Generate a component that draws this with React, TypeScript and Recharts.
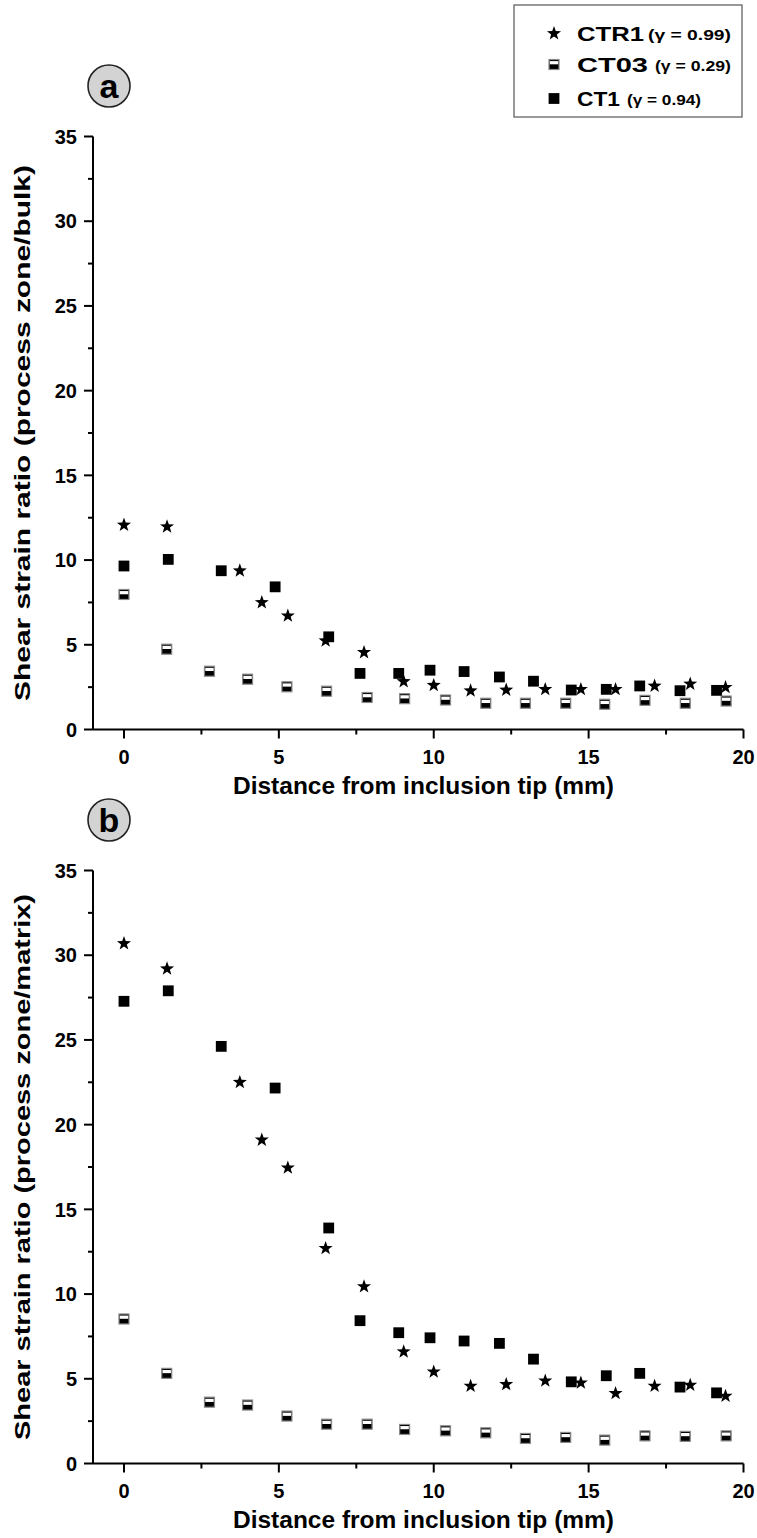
import React from 'react';
import { ScatterChart, Scatter, XAxis, YAxis } from 'recharts';

// ---- data ----
const ctr1X = [0, 1.39, 3.74, 4.45, 5.29, 6.51, 7.75, 9.03, 10.0, 11.19, 12.34, 13.6, 14.75, 15.87, 17.13, 18.28, 19.42];
const ctr1A = [12.07, 11.97, 9.37, 7.5, 6.71, 5.24, 4.55, 2.83, 2.61, 2.29, 2.33, 2.37, 2.37, 2.37, 2.57, 2.69, 2.49];
const ctr1B = [30.69, 29.2, 22.5, 19.1, 17.45, 12.7, 10.44, 6.6, 5.41, 4.57, 4.67, 4.88, 4.76, 4.14, 4.57, 4.63, 3.98];

const ct03X = [0, 1.38, 2.76, 3.99, 5.26, 6.54, 7.85, 9.06, 10.38, 11.68, 12.96, 14.26, 15.52, 16.82, 18.12, 19.44];
const ct03A = [7.97, 4.74, 3.44, 2.97, 2.52, 2.26, 1.89, 1.82, 1.74, 1.55, 1.55, 1.55, 1.49, 1.72, 1.55, 1.68];
const ct03B = [8.53, 5.32, 3.62, 3.45, 2.8, 2.32, 2.32, 2.01, 1.93, 1.81, 1.48, 1.54, 1.38, 1.63, 1.6, 1.63];

const ct1X = [0, 1.43, 3.14, 4.88, 6.61, 7.62, 8.87, 9.88, 10.98, 12.12, 13.22, 14.44, 15.57, 16.65, 17.95, 19.13];
const ct1A = [9.65, 10.04, 9.37, 8.42, 5.47, 3.31, 3.31, 3.5, 3.42, 3.1, 2.85, 2.33, 2.37, 2.57, 2.29, 2.31];
const ct1B = [27.28, 27.9, 24.62, 22.16, 13.9, 8.43, 7.72, 7.42, 7.23, 7.09, 6.16, 4.82, 5.18, 5.32, 4.51, 4.17];

const xTicks = [0, 2.5, 5, 7.5, 10, 12.5, 15, 17.5, 20];
const yTicks = [0, 2.5, 5, 7.5, 10, 12.5, 15, 17.5, 20, 22.5, 25, 27.5, 30, 32.5, 35];

const seriesNames = ['CTR1', 'CT03', 'CT1'];
const gammaLabels = ['(γ = 0.99)', '(γ = 0.29)', '(γ = 0.94)'];
const xTitle = 'Distance from inclusion tip (mm)';
const yTitleA = 'Shear strain ratio (process zone/bulk)';
const yTitleB = 'Shear strain ratio (process zone/matrix)';

// ---- layout ----
const W = 757;
const CH = 800;
const PLOT_LEFT = 93;
const PLOT_RIGHT = 743.5;
const PLOT_TOP = 136.5;
const PLOT_BOTTOM = 729.5;
const FONT = '"Liberation Sans", Arial, sans-serif';
const MAJOR = 9;
const MINOR = 5;

const isMajor = (v: number) => Math.abs(v % 5) < 1e-9;

// ---- markers ----
function starPath(cx: number, cy: number, ro: number, ri: number) {
  const pts: string[] = [];
  for (let i = 0; i < 10; i++) {
    const r = i % 2 === 0 ? ro : ri;
    const a = -Math.PI / 2 + (i * Math.PI) / 5;
    pts.push(`${(cx + r * Math.cos(a)).toFixed(2)},${(cy + r * Math.sin(a)).toFixed(2)}`);
  }
  return pts.join(' ');
}
const StarShape = (p: any) => <polygon points={starPath(p.cx, p.cy, 7.4, 3.0)} fill="#000" />;
const SquareShape = (p: any) => <rect x={p.cx - 5.4} y={p.cy - 5.4} width={10.8} height={10.8} fill="#000" />;
const HalfShape = (p: any) => (
  <g>
    <rect x={p.cx - 5} y={p.cy - 5} width={10} height={10} fill="#000" stroke="#8a8a8a" strokeWidth={1.2} />
    <rect x={p.cx - 4.2} y={p.cy - 3.4} width={8.4} height={3.2} fill="#fff" />
  </g>
);

// ---- ticks ----
const LeftTick = (p: any) => {
  const v = p.payload.value;
  const m = isMajor(v);
  return (
    <g>
      <line x1={p.x} x2={p.x - (m ? MAJOR : MINOR)} y1={p.y} y2={p.y} stroke="#000" strokeWidth={2} />
      {m && (
        <text x={p.x - 16} y={p.y} dy="0.36em" textAnchor="end" fontFamily={FONT} fontWeight="bold" fontSize={20} fill="#000">
          {v}
        </text>
      )}
    </g>
  );
};
const RightTick = (p: any) => {
  const v = p.payload.value;
  const m = isMajor(v);
  return <line x1={p.x} x2={p.x - (m ? MAJOR : MINOR)} y1={p.y} y2={p.y} stroke="#000" strokeWidth={2} />;
};
const BottomTick = (p: any) => {
  const v = p.payload.value;
  const m = isMajor(v);
  return (
    <g>
      <line x1={p.x} x2={p.x} y1={p.y} y2={p.y + (m ? MAJOR : MINOR)} stroke="#000" strokeWidth={2} />
      {m && (
        <text x={p.x} y={p.y + 34} textAnchor="middle" fontFamily={FONT} fontWeight="bold" fontSize={20} fill="#000">
          {v}
        </text>
      )}
    </g>
  );
};
const TopTick = (p: any) => {
  const v = p.payload.value;
  const m = isMajor(v);
  return <line x1={p.x} x2={p.x} y1={p.y} y2={p.y + (m ? MAJOR : MINOR)} stroke="#000" strokeWidth={2} />;
};

const axisLine = { stroke: '#000', strokeWidth: 2 };

function Panel({ top, ctr1, ct03, ct1, yTitle, yLen }: { top: number; ctr1: number[]; ct03: number[]; ct1: number[]; yTitle: string; yLen: number }) {
  const dStar = ctr1X.map((x, i) => ({ x, y: ctr1[i] }));
  const dHalf = ct03X.map((x, i) => ({ x, y: ct03[i] }));
  const dSq = ct1X.map((x, i) => ({ x, y: ct1[i] }));
  const XH = 60;
  const YW = 60;
  return (
    <div style={{ position: 'absolute', left: 0, top, width: W, height: CH }}>
      <ScatterChart
        width={W}
        height={CH}
        margin={{ top: PLOT_TOP, right: W - PLOT_RIGHT, bottom: CH - PLOT_BOTTOM - XH, left: PLOT_LEFT - YW }}
      >
        <XAxis
          xAxisId="b"
          type="number"
          dataKey="x"
          domain={[-1, 20]}
          ticks={xTicks}
          interval={0}
          height={XH}
          tickSize={0}
          tickMargin={0}
          tickLine={false}
          tick={<BottomTick />}
          axisLine={axisLine}
          allowDataOverflow
          label={{
            content: (lp: any) => (
              <text
                x={423.5}
                y={lp.viewBox.y + 64}
                textAnchor="middle"
                fontFamily={FONT}
                fontWeight="bold"
                fontSize={24}
                fill="#000"
                textLength={381}
                lengthAdjust="spacingAndGlyphs"
              >
                {xTitle}
              </text>
            ),
          }}
        />
        <XAxis
          xAxisId="t"
          orientation="top"
          type="number"
          dataKey="x"
          domain={[-1, 20]}
          ticks={xTicks}
          interval={0}
          height={0}
          tickSize={0}
          tickMargin={0}
          tickLine={false}
          tick={<TopTick />}
          axisLine={axisLine}
          allowDataOverflow
        />
        <YAxis
          yAxisId="l"
          type="number"
          dataKey="y"
          domain={[0, 35]}
          ticks={yTicks}
          interval={0}
          width={YW}
          tickSize={0}
          tickMargin={0}
          tickLine={false}
          tick={<LeftTick />}
          axisLine={axisLine}
          allowDataOverflow
          label={{
            content: (lp: any) => {
              const cx = 22;
              const cy = lp.viewBox.y + lp.viewBox.height / 2;
              return (
                <text
                  x={cx}
                  y={cy}
                  transform={`rotate(-90 ${cx} ${cy})`}
                  dy="0.35em"
                  textAnchor="middle"
                  fontFamily={FONT}
                  fontWeight="bold"
                  fontSize={22}
                  fill="#000"
                  textLength={yLen}
                  lengthAdjust="spacingAndGlyphs"
                >
                  {yTitle}
                </text>
              );
            },
          }}
        />
        <YAxis
          yAxisId="r"
          orientation="right"
          type="number"
          dataKey="y"
          domain={[0, 35]}
          ticks={yTicks}
          interval={0}
          width={0}
          tickSize={0}
          tickMargin={0}
          tickLine={false}
          tick={<RightTick />}
          axisLine={axisLine}
          allowDataOverflow
        />
        <Scatter xAxisId="b" yAxisId="l" name={seriesNames[0]} data={dStar} shape={StarShape} isAnimationActive={false} />
        <Scatter xAxisId="b" yAxisId="l" name={seriesNames[1]} data={dHalf} shape={HalfShape} isAnimationActive={false} />
        <Scatter xAxisId="b" yAxisId="l" name={seriesNames[2]} data={dSq} shape={SquareShape} isAnimationActive={false} />
      </ScatterChart>
    </div>
  );
}

function Overlay() {
  const rows = [
    { y: 33.5, marker: 'star', nameLen: 67, gx: 648, gLen: 83 },
    { y: 64.5, marker: 'half', nameLen: 71, gx: 655, gLen: 76 },
    { y: 98.5, marker: 'sq', nameLen: 43, gx: 627, gLen: 74 },
  ];
  return (
    <svg width={W} height={1538} style={{ position: 'absolute', left: 0, top: 0, pointerEvents: 'none' }}>
      <rect x={514} y={5} width={228} height={112} fill="#fff" stroke="#555" strokeWidth={1.2} />
      {rows.map((r, i) => (
        <g key={i}>
          {r.marker === 'star' && <StarShape cx={554} cy={r.y} />}
          {r.marker === 'half' && <HalfShape cx={554} cy={r.y} />}
          {r.marker === 'sq' && <SquareShape cx={554} cy={r.y} />}
          <text x={577} y={r.y + 7} fontFamily={FONT} fontWeight="bold" fontSize={21} fill="#000" textLength={r.nameLen} lengthAdjust="spacingAndGlyphs">
            {seriesNames[i]}
          </text>
          <text x={r.gx} y={r.y + 6.5} fontFamily={FONT} fontWeight="bold" fontSize={15} fill="#000" textLength={r.gLen} lengthAdjust="spacingAndGlyphs">
            {gammaLabels[i]}
          </text>
        </g>
      ))}
      {[
        { cx: 109, cy: 86, t: 'a' },
        { cx: 109, cy: 820, t: 'b' },
      ].map((c) => (
        <g key={c.t}>
          <circle cx={c.cx} cy={c.cy} r={21} fill="#d3d3d3" stroke="#222" strokeWidth={1.6} />
          <text x={c.cx} y={c.cy} dy="0.36em" textAnchor="middle" fontFamily={FONT} fontWeight="bold" fontSize={34} fill="#000">
            {c.t}
          </text>
        </g>
      ))}
    </svg>
  );
}

export default function App() {
  return (
    <div style={{ position: 'absolute', left: 0, top: 0, width: W, height: 1538, background: '#fff' }}>
      <Panel top={0} ctr1={ctr1A} ct03={ct03A} ct1={ct1A} yTitle={yTitleA} yLen={536} />
      <Panel top={734} ctr1={ctr1B} ct03={ct03B} ct1={ct1B} yTitle={yTitleB} yLen={546} />
      <Overlay />
    </div>
  );
}
